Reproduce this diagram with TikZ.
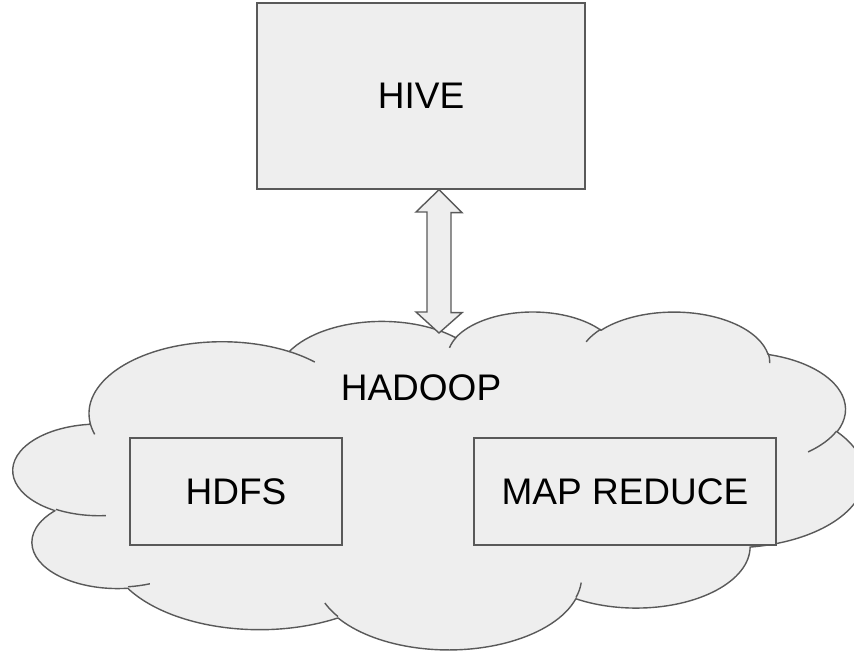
\documentclass[tikz,border=0pt]{standalone}
\usepackage{fontspec}
\setmainfont{Liberation Sans}
\usetikzlibrary{calc}
\definecolor{shapefill}{RGB}{238,238,238}
\definecolor{shapeline}{RGB}{89,89,89}
% #1 name, #2 wR, #3 hR, #4 start angle (geometric, deg), #5 sweep (deg)
\newcommand{\mkarc}[5]{%
  \pgfmathsetmacro\tmpS{atan2((#2)*sin(#4),(#3)*cos(#4))}%
  \pgfmathsetmacro\tmpE{atan2((#2)*sin((#4)+(#5)),(#3)*cos((#4)+(#5)))}%
  \pgfmathsetmacro\tmpD{mod(\tmpE-\tmpS+720,360)}%
  \expandafter\xdef\csname cS#1\endcsname{\tmpS}%
  \expandafter\xdef\csname cD#1\endcsname{\tmpD}%
}
\begin{document}
\begin{tikzpicture}[x=1pt,y=-1pt,
  box/.style={draw=shapeline, fill=shapefill, line width=1.4pt, inner sep=0pt,
    font=\fontsize{37}{44}\selectfont},
  plaintext/.style={inner sep=0pt, font=\fontsize{37}{44}\selectfont},
  cloudbody/.style={draw=shapeline, fill=shapefill, line width=1.4pt, line join=round},
  cloudline/.style={draw=shapeline, line width=1.4pt},
  linkstyle/.style={draw=shapeline, fill=shapefill, line width=1.4pt, line join=miter}]
\useasboundingbox (0,0) rectangle (854,652);
\clip (0,0) rectangle (854,652);
% outline arcs
\mkarc{A}{6.753}{9.190}{-190.48748}{123.78053}
\mkarc{B}{5.333}{7.267}{-144.10238}{89.94523}
\mkarc{C}{4.365}{5.945}{-145.80792}{99.72302}
\mkarc{D}{4.857}{6.595}{-130.98607}{117.24173}
\mkarc{E}{5.333}{7.273}{-78.70888}{109.02692}
\mkarc{F}{6.775}{9.220}{-46.26725}{130.269}
\mkarc{G}{5.785}{7.867}{0.62502}{114.03333}
\mkarc{H}{6.752}{9.215}{22.4516}{115.17255}
\mkarc{I}{7.720}{10.543}{66.24263}{75.71102}
\mkarc{J}{4.360}{5.918}{-274.94208}{146.73557}
\mkarc{K}{4.345}{5.945}{-246.8285}{152.51885}
% inner strokes
\mkarc{a}{4.345}{5.945}{86.742}{26.4295}
\mkarc{b}{4.360}{5.918}{73.61047}{11.44747}
\mkarc{c}{6.752}{9.215}{137.62415}{14.0811}
\mkarc{d}{6.752}{9.215}{6.45327}{15.99835}
\mkarc{e}{5.785}{7.867}{-70.29235}{70.91737}
\mkarc{f}{5.333}{7.273}{30.31803}{27.7515}
\mkarc{g}{4.857}{6.595}{-13.74433}{14.8589}
\mkarc{h}{4.857}{6.595}{-149.18145}{18.19537}
\mkarc{i}{4.365}{5.945}{-163.49427}{17.68635}
\mkarc{j}{6.753}{9.190}{-66.70695}{12.31935}
\mkarc{k}{6.753}{9.190}{157.65435}{11.85817}
\begin{scope}[shift={(13.4,310.9)}, x=1pt, y=1pt, xscale=19.6968, yscale=-7.8194]
\path[cloudbody] (3.9,14.37)
  arc[start angle=\cSA, delta angle=\cDA, x radius=6.753pt, y radius=9.190pt]
  arc[start angle=\cSB, delta angle=\cDB, x radius=5.333pt, y radius=7.267pt]
  arc[start angle=\cSC, delta angle=\cDC, x radius=4.365pt, y radius=5.945pt]
  arc[start angle=\cSD, delta angle=\cDD, x radius=4.857pt, y radius=6.595pt]
  arc[start angle=\cSE, delta angle=\cDE, x radius=5.333pt, y radius=7.273pt]
  arc[start angle=\cSF, delta angle=\cDF, x radius=6.775pt, y radius=9.220pt]
  arc[start angle=\cSG, delta angle=\cDG, x radius=5.785pt, y radius=7.867pt]
  arc[start angle=\cSH, delta angle=\cDH, x radius=6.752pt, y radius=9.215pt]
  arc[start angle=\cSI, delta angle=\cDI, x radius=7.720pt, y radius=10.543pt]
  arc[start angle=\cSJ, delta angle=\cDJ, x radius=4.360pt, y radius=5.918pt]
  arc[start angle=\cSK, delta angle=\cDK, x radius=4.345pt, y radius=5.945pt]
  -- cycle;
\path[cloudline]
  (4.693,26.177) arc[start angle=\cSa, delta angle=\cDa, x radius=4.345pt, y radius=5.945pt]
  (6.928,34.899) arc[start angle=\cSb, delta angle=\cDb, x radius=4.360pt, y radius=5.918pt]
  (16.478,39.090) arc[start angle=\cSc, delta angle=\cDc, x radius=6.752pt, y radius=9.215pt]
  (28.827,34.751) arc[start angle=\cSd, delta angle=\cDd, x radius=6.752pt, y radius=9.215pt]
  (34.129,22.954) arc[start angle=\cSe, delta angle=\cDe, x radius=5.785pt, y radius=7.867pt]
  (41.798,15.354) arc[start angle=\cSf, delta angle=\cDf, x radius=5.333pt, y radius=7.273pt]
  (38.324,5.426) arc[start angle=\cSg, delta angle=\cDg, x radius=4.857pt, y radius=6.595pt]
  (29.078,3.952) arc[start angle=\cSh, delta angle=\cDh, x radius=4.857pt, y radius=6.595pt]
  (22.141,4.720) arc[start angle=\cSi, delta angle=\cDi, x radius=4.365pt, y radius=5.945pt]
  (14.000,5.192) arc[start angle=\cSj, delta angle=\cDj, x radius=6.753pt, y radius=9.190pt]
  (4.127,15.789) arc[start angle=\cSk, delta angle=\cDk, x radius=6.753pt, y radius=9.190pt];
\end{scope}
\node[plaintext] (hadoop) at (421,388) {HADOOP};
\node[box, minimum width=212pt, minimum height=107pt] (hdfs) at (236,491.5) {HDFS};
\node[box, minimum width=302pt, minimum height=107pt] (mapreduce) at (625,491.5) {MAP REDUCE};
\node[box, minimum width=328pt, minimum height=186pt] (hive) at (421,96) {HIVE};
\coordinate (ctop) at (439,333);
\coordinate (atip) at (hive.south -| ctop);
\path[linkstyle] (atip) -- ++(23,23) -- ++(-11,0) -- ++(0,100) -- ++(11,0) -- (ctop)
  -- ++(-23,-21) -- ++(11,0) -- ++(0,-100) -- ++(-11,0) -- cycle;
\end{tikzpicture}
\end{document}
